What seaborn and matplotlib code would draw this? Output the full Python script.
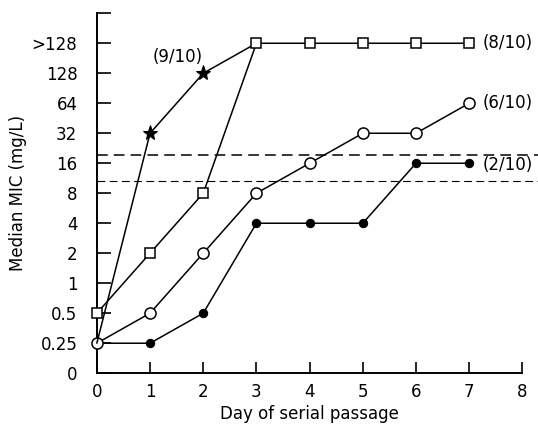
import matplotlib
matplotlib.use("Agg")
import matplotlib.pyplot as plt
import seaborn as sns
import pandas as pd

# ---- data ----
mic_levels = ["0", "0.25", "0.5", "1", "2", "4", "8", "16", "32", "64", "128", ">128"]
days = [0, 1, 2, 3, 4, 5, 6, 7]
star_days = [0, 1, 2, 3]
star_mic = ["0.25", "32", "128", ">128"]
square_mic = ["0.5", "2", "8", ">128", ">128", ">128", ">128", ">128"]
open_circle_mic = ["0.25", "0.5", "2", "8", "16", "32", "32", "64"]
filled_circle_mic = ["0.25", "0.25", "0.5", "4", "4", "4", "16", "16"]
breakpoints_pos = [7.27, 6.42]   # dashed reference lines (axis-category units)
labels = ["(9/10)", "(8/10)", "(6/10)", "(2/10)"]
xticks = [0, 1, 2, 3, 4, 5, 6, 7, 8]

idx = {m: i for i, m in enumerate(mic_levels)}

sns.set_style("ticks")
plt.rcParams["font.family"] = ["DejaVu Sans"]
plt.rcParams["text.color"] = "black"
plt.rcParams["axes.labelcolor"] = "black"
plt.rcParams["xtick.color"] = "black"
plt.rcParams["ytick.color"] = "black"

fig = plt.figure(figsize=(5.38, 4.28), dpi=100)
ax = fig.add_axes([0.180, 0.128, 0.791, 0.841])

def series(d, m):
    return pd.DataFrame({"day": d, "pos": [idx[v] for v in m]})

kw = dict(color="black", linewidth=1.1, ax=ax, legend=False, clip_on=False)

sns.lineplot(data=series(days, filled_circle_mic), x="day", y="pos", marker="o",
             markersize=6, markerfacecolor="black", markeredgecolor="black", zorder=3, **kw)
sns.lineplot(data=series(days, open_circle_mic), x="day", y="pos", marker="o",
             markersize=8, markerfacecolor="white", markeredgecolor="black",
             markeredgewidth=1.1, zorder=4, **kw)
sns.lineplot(data=series(star_days, star_mic), x="day", y="pos", marker="*",
             markersize=11, markerfacecolor="black", markeredgecolor="black",
             markevery=[1, 2], zorder=5, **kw)
sns.lineplot(data=series(days, square_mic), x="day", y="pos", marker="s",
             markersize=7, markerfacecolor="white", markeredgecolor="black",
             markeredgewidth=1.1, zorder=6, **kw)

ax.axhline(breakpoints_pos[0], xmin=0, xmax=1.038, color="black", linewidth=1.1,
           dashes=(7, 4), zorder=2, clip_on=False)
ax.axhline(breakpoints_pos[1], xmin=0, xmax=1.038, color="black", linewidth=0.8,
           dashes=(7, 4), zorder=2, clip_on=False)

ax.set_xlim(0, 8)
ax.set_ylim(0, 12)
ax.set_xticks(xticks)
ax.set_xticklabels([str(x) for x in xticks])
ax.set_yticks(list(range(len(mic_levels))) + [12])
ax.set_yticklabels(mic_levels + [""])
ax.tick_params(axis="both", direction="in", length=8, width=1.2, labelsize=12,
               colors="black", labelcolor="black")
ax.tick_params(axis="x", pad=7)
ax.tick_params(axis="y", length=10, pad=14)
for s in ["left", "bottom"]:
    ax.spines[s].set_linewidth(1.4)
    ax.spines[s].set_color("black")
sns.despine(ax=ax)
ax.set_xlabel("Day of serial passage", fontsize=12, labelpad=3, color="black")
ax.set_ylabel("Median MIC (mg/L)", fontsize=12, labelpad=3, color="black")

ax.text(1.05, 10.55, labels[0], fontsize=12, ha="left", va="center", color="black")
ax.text(7.25, 11, labels[1], fontsize=12, ha="left", va="center", clip_on=False, color="black")
ax.text(7.25, 9, labels[2], fontsize=12, ha="left", va="center", clip_on=False, color="black")
ax.text(7.25, 6.95, labels[3], fontsize=12, ha="left", va="center", clip_on=False, color="black")

fig.savefig("out.png", dpi=100, facecolor="white")
